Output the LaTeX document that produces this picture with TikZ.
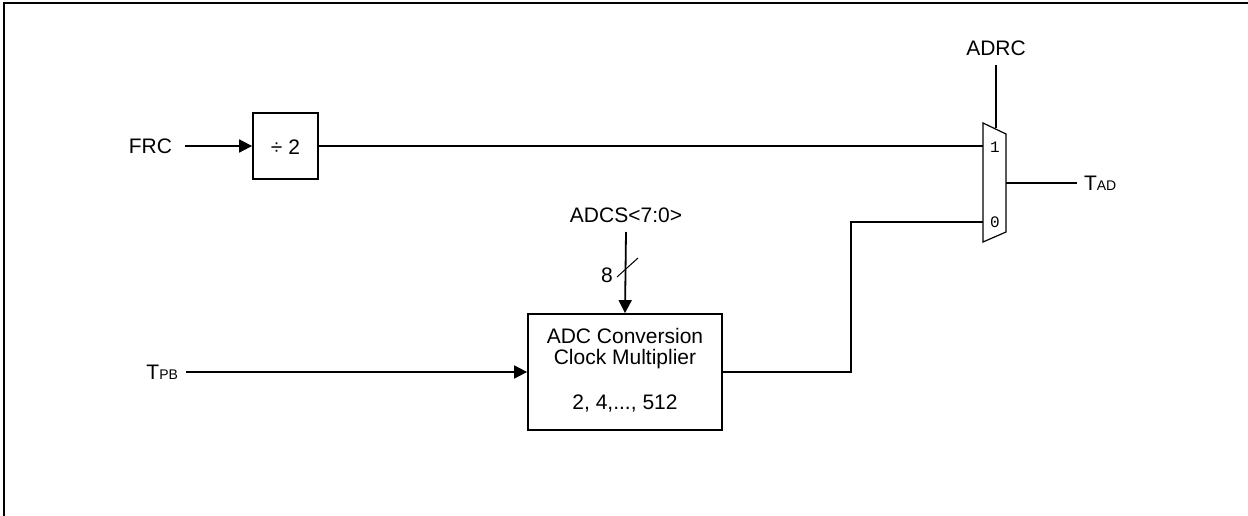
\documentclass[tikz,border=0pt]{standalone}
\usepackage{fontspec}
\setmainfont{Liberation Sans}
\newfontfamily\muxfont{Liberation Mono}
\usetikzlibrary{arrows.meta}
\begin{document}
\begin{tikzpicture}[x=1pt,y=-1pt,
  wire/.style={line width=1.8pt},
  arr/.style={wire,-{Triangle[length=13pt,width=13pt]}},
  blk/.style={draw,line width=1.8pt,inner sep=0pt},
  lbl/.style={inner sep=0pt,font=\fontsize{21}{25}\selectfont},
  muxlbl/.style={inner sep=0pt,font=\muxfont\fontsize{16}{18}\selectfont}]
\useasboundingbox (0,0) rectangle (1248,516);
% frame (top and left edges only)
\draw[line width=2pt] (4,516) -- (4,3) -- (1248,3);

% blocks
\node[blk,minimum width=65pt,minimum height=66pt] (div) at (285.5,146) {};
\node[lbl] at (285.5,147) {÷ 2};
\node[blk,minimum width=194pt,minimum height=116pt] (mul) at (625,372) {};
\node[lbl] (l1) at (625,336) {ADC Conversion};
\node[lbl] (l2) at (625,359) {Clock Multiplier};
\node[lbl] (l3) at (625,404) {2, 4,..., 512};

% mux
\coordinate (mtl) at (983,123);
\coordinate (mtr) at (1006,134);
\coordinate (mbr) at (1006,232);
\coordinate (mbl) at (983,242);
\draw[line width=1.2pt] (mtl) -- (mtr) -- (mbr) -- (mbl) -- cycle;
\coordinate (min1) at (983,146);
\coordinate (min0) at (983,222);
\coordinate (mout) at (1006,183);
\coordinate (msel) at (996,128.5);
\node[muxlbl] (one) at (995,147) {1};
\node[muxlbl] (zero) at (995,222) {0};

% labels
\node[lbl,anchor=east,outer xsep=13pt] (frc) at (185,146) {FRC};
\node[lbl,anchor=east,outer xsep=8pt] (tpb) at (186,372) {T{\fontsize{14}{16}\selectfont PB}};
\node[lbl,anchor=south,outer ysep=9pt] (adcs) at (626,232) {ADCS<7:0>};
\node[lbl,anchor=south,outer ysep=9pt] (adrc) at (996,65) {ADRC};
\node[lbl,anchor=west,outer xsep=7pt] (tad) at (1077,183) {T{\fontsize{14}{16}\selectfont AD}};
\node[lbl] (eight) at (607,275) {8};

% connectors
\draw[arr] (frc.east) -- (div.west);
\draw[wire] (div.east) -- (min1);
\draw[wire] (adrc.south) -- (msel);
\draw[wire] (mout) -- (tad.west);
\draw[arr] (adcs.south) -- (mul.north);
\draw[arr] (tpb.east) -- (mul.west);
\draw[wire] (mul.east) -- (851,372) -- (851,222) -- (min0);
% bus slash
\coordinate (s1) at (617,277);
\coordinate (s2) at (638,258);
\draw[line width=1pt] (s1) -- (s2);
\end{tikzpicture}
\end{document}
